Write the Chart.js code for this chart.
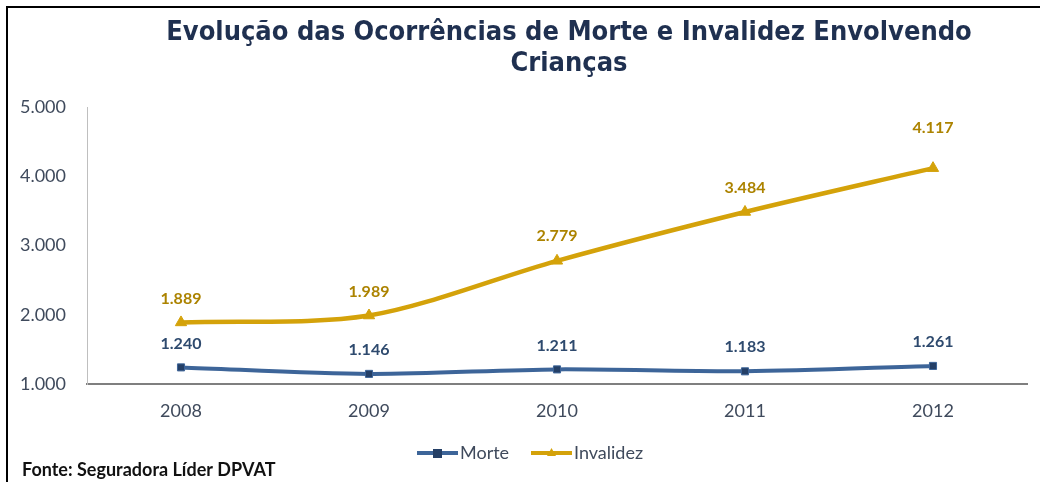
<!DOCTYPE html>
<html>
<head>
<meta charset="utf-8">
<script src="https://cdn.jsdelivr.net/npm/chart.js@4"></script>
<style>
    html, body { margin: 0; padding: 0; background: #fff; }
    #wrap { width: 1040px; height: 482px; position: relative; }
</style>
</head>
<body>
<div id="wrap"><canvas id="chart"></canvas></div>
<script>
(function () {
    'use strict';

    const YEARS = ['2008', '2009', '2010', '2011', '2012'];
    const MORTE = [1240, 1146, 1211, 1183, 1261];
    const INVALIDEZ = [1889, 1989, 2779, 3484, 4117];
    const TITLE_LINES = ['Evolução das Ocorrências de Morte e Invalidez Envolvendo', 'Crianças'];
    const SOURCE = 'Fonte: Seguradora Líder DPVAT';

    const BLUE = '#3d6599';
    const BLUE_DARK = '#243f66';
    const BLUE_TEXT = '#2e4a6e';
    const GOLD = '#d4a20a';
    const GOLD_TEXT = '#ac8300';
    const AXIS_TEXT = '#3f4a5c';
    const FONT = 'Lato, "Open Sans", sans-serif';

    function fmt(v) {
        return v.toLocaleString('pt-BR');
    }

    // title, value labels, legend, source and the frame
    const extras = {
        id: 'extras',
        afterDatasetsDraw(chart) {
            const ctx = chart.ctx;
            ctx.save();

            // frame (left + top)
            ctx.strokeStyle = '#000';
            ctx.lineWidth = 2;
            ctx.beginPath();
            ctx.moveTo(7, 482);
            ctx.lineTo(7, 7);
            ctx.lineTo(1040, 7);
            ctx.stroke();

            // title
            ctx.fillStyle = '#1f3050';
            ctx.textAlign = 'center';
            ctx.textBaseline = 'middle';
            ctx.font = 'bold 27px "DejaVu Sans Condensed", "DejaVu Sans", sans-serif';
            ctx.fillText(TITLE_LINES[0], 569, 33);
            ctx.fillText(TITLE_LINES[1], 569, 64);

            // value labels
            ctx.font = 'bold 16px ' + FONT;
            chart.data.datasets.forEach(function (ds, i) {
                const meta = chart.getDatasetMeta(i);
                ctx.fillStyle = ds.labelColor;
                meta.data.forEach(function (pt, j) {
                    const lift = ds.labelLift ? ds.labelLift[j] : 24;
                    ctx.fillText(fmt(ds.data[j]), pt.x, pt.y - lift);
                });
            });

            // legend
            const items = [
                { text: 'Morte', ds: chart.data.datasets[0], x: 417 },
                { text: 'Invalidez', ds: chart.data.datasets[1], x: 531 }
            ];
            const ly = 453;
            ctx.font = '18px ' + FONT;
            ctx.textAlign = 'left';
            items.forEach(function (it) {
                ctx.strokeStyle = it.ds.borderColor;
                ctx.lineWidth = 4;
                ctx.beginPath();
                ctx.moveTo(it.x, ly);
                ctx.lineTo(it.x + 41, ly);
                ctx.stroke();
                ctx.fillStyle = it.ds.pointBackgroundColor;
                if (it.ds.pointStyle === 'rect') {
                    ctx.fillRect(it.x + 16, ly - 4, 9, 9);
                } else {
                    ctx.beginPath();
                    ctx.moveTo(it.x + 20.5, ly - 5);
                    ctx.lineTo(it.x + 25, ly + 3);
                    ctx.lineTo(it.x + 16, ly + 3);
                    ctx.closePath();
                    ctx.fill();
                }
                ctx.fillStyle = AXIS_TEXT;
                ctx.fillText(it.text, it.x + 43, ly);
            });

            // source
            ctx.fillStyle = '#111';
            ctx.font = 'bold 18px ' + FONT;
            ctx.fillText(SOURCE, 22, 470);

            ctx.restore();
        }
    };

    new Chart(document.getElementById('chart'), {
        type: 'line',
        data: {
            labels: YEARS,
            datasets: [{
                label: 'Morte',
                data: MORTE,
                borderColor: BLUE,
                borderWidth: 4,
                pointStyle: 'rect',
                pointRadius: 5,
                pointBackgroundColor: BLUE_DARK,
                pointBorderColor: BLUE,
                pointBorderWidth: 1,
                tension: 0.3,
                labelColor: BLUE_TEXT
            }, {
                label: 'Invalidez',
                data: INVALIDEZ,
                borderColor: GOLD,
                borderWidth: 4.5,
                pointStyle: 'triangle',
                pointRadius: 6.5,
                pointBackgroundColor: GOLD,
                pointBorderColor: GOLD,
                pointBorderWidth: 1,
                tension: 0.3,
                labelColor: GOLD_TEXT,
                labelLift: [24, 24, 25, 24, 40]
            }]
        },
        options: {
            responsive: true,
            maintainAspectRatio: false,
            animation: false,
            layout: { padding: { left: 0, top: 107, right: 13, bottom: 0 } },
            plugins: {
                legend: { display: false },
                title: { display: false },
                tooltip: { enabled: false }
            },
            scales: {
                x: {
                    offset: true,
                    grid: { display: false, drawTicks: false },
                    border: { color: '#7f7f7f', width: 2 },
                    ticks: { color: AXIS_TEXT, font: { family: FONT, size: 18 }, padding: 16 },
                    afterFit: function (s) { s.height = 98; }
                },
                y: {
                    min: 1000,
                    max: 5000,
                    grid: { display: false, drawTicks: false },
                    border: { color: '#bfbfbf', width: 1 },
                    ticks: {
                        stepSize: 1000,
                        color: AXIS_TEXT,
                        font: { family: FONT, size: 18 },
                        padding: 21,
                        callback: function (v) { return fmt(v); }
                    },
                    afterFit: function (s) { s.width = 87; }
                }
            }
        },
        plugins: [extras]
    });
})();
</script>
</body>
</html>
